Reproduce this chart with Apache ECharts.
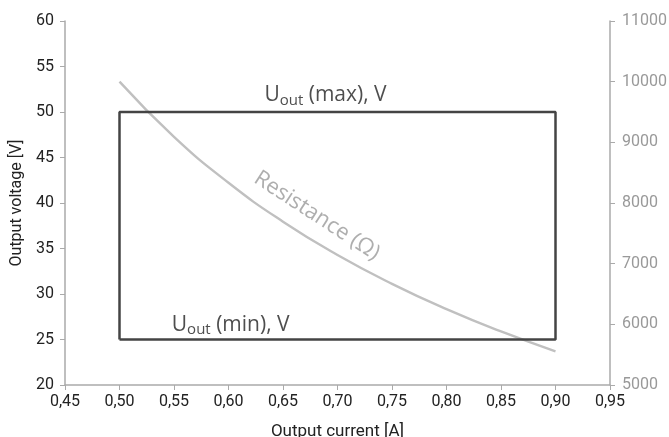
<!DOCTYPE html>
<html><head><meta charset="utf-8">
<script src="https://cdn.jsdelivr.net/npm/echarts@6/dist/echarts.min.js"></script>
<style>html,body{margin:0;padding:0;background:#fff}#c{width:669px;height:437px}</style>
</head><body><div id="c"></div>
<script>
// Data
var currentA = [0.50, 0.55, 0.60, 0.65, 0.70, 0.75, 0.80, 0.85, 0.90];
var resistanceOhm = [10000, 9090, 8333, 7692, 7143, 6667, 6250, 5882, 5556];
var rectCurrent = [0.50, 0.50, 0.90, 0.90, 0.50];
var rectVoltage = [25, 50, 50, 25, 25];
var voltageTicks = {min: 20, max: 60, interval: 5};
var resistTicks = {min: 5000, max: 11000, interval: 1000};
var currentTicks = {min: 0.45, max: 0.95, interval: 0.05};

var FONT = 'Roboto';
var chart = echarts.init(document.getElementById('c'), null, {renderer: 'canvas'});
function zip(a, b) { return a.map(function (v, i) { return [v, b[i]]; }); }
var subRich = {
  u: {fontFamily: 'Open Sans', fontSize: 21, color: '#222'},
  s: {fontFamily: 'Open Sans', fontSize: 15, color: '#222', padding: [10, 0, 0, 0]}
};
chart.setOption({
  animation: false,
  grid: {left: 65, right: 59, top: 21, bottom: 52, containLabel: false, outerBoundsMode: 'none'},
  xAxis: {
    type: 'value', min: currentTicks.min, max: currentTicks.max, interval: currentTicks.interval,
    name: 'Output current [A]', nameLocation: 'middle', nameGap: 38,
    nameTextStyle: {fontFamily: FONT, fontSize: 17, color: '#222'},
    axisLine: {lineStyle: {color: '#aaa', width: 1.5}},
    axisTick: {show: true, length: 5, lineStyle: {color: '#aaa'}},
    axisLabel: {fontFamily: FONT, fontSize: 16, color: '#222', margin: 9,
      formatter: function (v) { return v.toFixed(2).replace('.', ','); }},
    splitLine: {show: false}
  },
  yAxis: [{
    type: 'value', min: voltageTicks.min, max: voltageTicks.max, interval: voltageTicks.interval,
    name: 'Output voltage [V]', nameLocation: 'middle', nameGap: 38,
    nameTextStyle: {fontFamily: FONT, fontSize: 16, color: '#222'},
    axisLine: {show: true, lineStyle: {color: '#aaa', width: 1.5}},
    axisTick: {show: true, length: 5, lineStyle: {color: '#aaa'}},
    axisLabel: {fontFamily: FONT, fontSize: 16, color: '#222', margin: 11},
    splitLine: {show: false}
  }, {
    type: 'value', min: resistTicks.min, max: resistTicks.max, interval: resistTicks.interval,
    position: 'right',
    axisLine: {show: true, lineStyle: {color: '#aaa', width: 1.5}},
    axisTick: {show: true, length: 5, lineStyle: {color: '#aaa'}},
    axisLabel: {fontFamily: FONT, fontSize: 16, color: '#999', margin: 12,
      formatter: function (v) { return String(v); }},
    splitLine: {show: false}
  }],
  series: [{
    type: 'line', yAxisIndex: 1, data: zip(currentA, resistanceOhm), smooth: true,
    showSymbol: false, lineStyle: {color: '#c0c0c0', width: 2.4}
  }, {
    type: 'line', yAxisIndex: 0, data: zip(rectCurrent, rectVoltage),
    showSymbol: false, lineStyle: {color: '#444', width: 2.5}
  }, {
    type: 'scatter', yAxisIndex: 0, symbolSize: 0, silent: true,
    data: [
      {value: [0.689, 50], label: {show: true, position: 'top', distance: 4,
        formatter: '{u|U}{s|out}{u| (max), V}', rich: subRich}},
      {value: [0.602, 25], label: {show: true, position: 'top', distance: 2,
        formatter: '{u|U}{s|out}{u| (min), V}', rich: subRich}}
    ]
  }, {
    type: 'scatter', yAxisIndex: 1, symbolSize: 0, silent: true,
    data: [{value: [0.681, 7790], label: {show: true, position: 'inside', rotate: -33,
      formatter: 'Resistance (Ω)', fontFamily: 'Open Sans', fontSize: 22, color: '#9a9a9a'}}]
  }]
});
</script></body></html>
